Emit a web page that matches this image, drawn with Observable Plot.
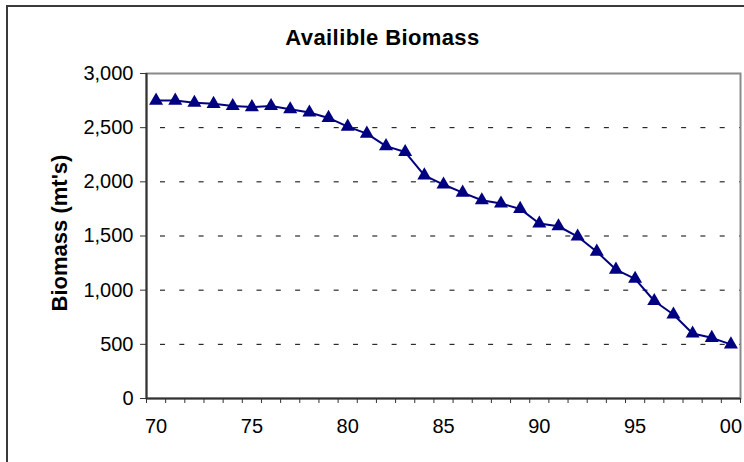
<!DOCTYPE html>
<html><head><meta charset="utf-8">
<script src="https://cdn.jsdelivr.net/npm/d3@7"></script>
<script src="https://cdn.jsdelivr.net/npm/@observablehq/plot@0.6"></script>
<style>
html,body{margin:0;padding:0;background:#fff;}
#wrap{position:relative;width:744px;height:462px;overflow:hidden;}
#border{position:absolute;left:6px;top:5px;width:800px;height:500px;border-left:2px solid #3a3a3a;border-top:2px solid #3a3a3a;pointer-events:none;}
#wrap svg{position:absolute;left:0;top:0;}
</style></head><body><div id="wrap"><div id="border"></div></div>
<script>
const title = "Availible Biomass";
const yLabel = "Biomass (mt's)";
const years = [1970,1971,1972,1973,1974,1975,1976,1977,1978,1979,1980,1981,1982,1983,1984,1985,1986,1987,1988,1989,1990,1991,1992,1993,1994,1995,1996,1997,1998,1999,2000];
const biomass = [2750,2750,2730,2720,2700,2690,2700,2670,2640,2590,2510,2445,2330,2275,2060,1975,1900,1830,1800,1750,1615,1590,1495,1355,1190,1105,900,775,600,560,500];
const yTicks = [0,500,1000,1500,2000,2500,3000];
const gridValues = [500,1000,1500,2000,2500];
const xLabelYears = [1970,1975,1980,1985,1990,1995,2000];
const xBoundaries = [1969.5,1970.5,1971.5,1972.5,1973.5,1974.5,1975.5,1976.5,1977.5,1978.5,1979.5,1980.5,1981.5,1982.5,1983.5,1984.5,1985.5,1986.5,1987.5,1988.5,1989.5,1990.5,1991.5,1992.5,1993.5,1994.5,1995.5,1996.5,1997.5,1998.5,1999.5,2000.5];

const data = years.map((y, i) => ({year: y, biomass: biomass[i]}));
const font = "'Liberation Sans', Arial, sans-serif";

const chart = Plot.plot({
  width: 744, height: 462,
  marginLeft: 146, marginRight: 4, marginTop: 73, marginBottom: 64,
  style: {fontFamily: font, fontSize: "20px", color: "#000", background: "transparent", overflow: "visible"},
  x: {domain: [1969.5, 2000.5], axis: null},
  y: {domain: [0, 3000], axis: null},
  marks: [
    Plot.gridY(gridValues, {stroke: "#000", strokeOpacity: 1, strokeWidth: 1, strokeDasharray: "5,14.3", strokeDashoffset: -14}),
    Plot.frame({stroke: "#8a8a8a", strokeWidth: 2}),
    Plot.axisY(yTicks, {tickFormat: d3.format(","), tickSize: 6, tickPadding: 7, label: null, fontSize: 20, stroke: "#333"}),
    Plot.axisX(xBoundaries, {tickSize: 5, tickFormat: () => "", label: null, stroke: "#333"}),
    Plot.axisX(xLabelYears, {tickSize: 0, tickPadding: 20, tickFormat: d => String(d).slice(2), label: null, fontSize: 20}),
    Plot.ruleX([1969.5], {stroke: "#333", strokeWidth: 2}),
    Plot.ruleY([0], {stroke: "#333", strokeWidth: 2}),
    Plot.line(data, {x: "year", y: "biomass", stroke: "#000080", strokeWidth: 2}),
    Plot.dot(data, {x: "year", y: "biomass", symbol: "triangle", r: 5.2, fill: "#000080", stroke: "none"}),
    Plot.text([title], {frameAnchor: "top", lineAnchor: "middle", dy: -36, dx: -61, fontSize: 22, fontWeight: "bold", fill: "#000"}),
    Plot.text([yLabel], {frameAnchor: "left", lineAnchor: "middle", textAnchor: "middle", rotate: -90, dx: -87, dy: -3, fontSize: 22, fontWeight: "bold", fill: "#000"})
  ]
});
chart.querySelectorAll("text").forEach(t => {
  if (t.textContent === title) t.setAttribute("letter-spacing", "0.4");
});
document.getElementById("wrap").appendChild(chart);
</script>
</body></html>
